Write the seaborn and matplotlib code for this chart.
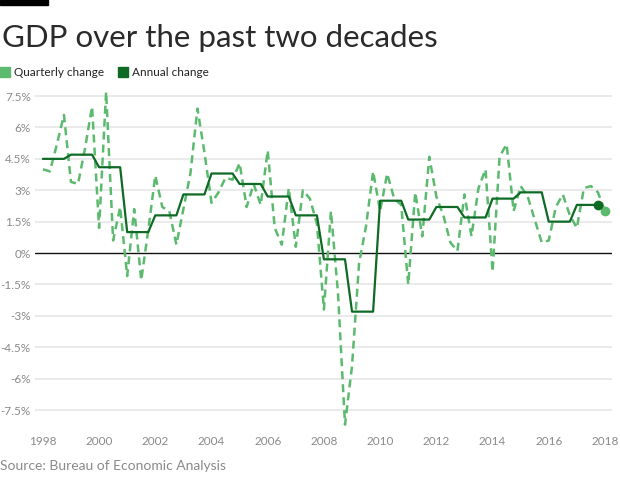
import numpy as np
import pandas as pd
import matplotlib
matplotlib.use("Agg")
import matplotlib.pyplot as plt
import seaborn as sns

# --- data (annualized real GDP growth, %) ---
quarter_start = "1998Q1"
quarter_end = "2018Q1"
quarterly_change = [
    4.0, 3.9, 5.2, 6.6,     # 1998
    3.4, 3.3, 5.0, 7.0,     # 1999
    1.2, 7.7, 0.6, 2.2,     # 2000
    -1.1, 2.1, -1.3, 1.1,   # 2001
    3.7, 2.2, 2.0, 0.4,     # 2002
    2.1, 3.8, 6.9, 4.8,     # 2003
    2.4, 2.9, 3.6, 3.5,     # 2004
    4.3, 2.2, 3.3, 2.3,     # 2005
    4.9, 1.2, 0.4, 3.1,     # 2006
    0.3, 3.0, 2.6, 1.4,     # 2007
    -2.7, 2.0, -1.9, -8.2,  # 2008
    -5.4, -0.5, 1.3, 3.9,   # 2009
    2.0, 3.8, 2.6, 2.3,     # 2010
    -1.5, 2.9, 0.8, 4.6,    # 2011
    2.7, 1.8, 0.5, 0.1,     # 2012
    2.8, 0.8, 3.1, 4.0,     # 2013
    -0.9, 4.6, 5.2, 2.0,    # 2014
    3.2, 2.7, 1.6, 0.5,     # 2015
    0.6, 2.2, 2.8, 1.8,     # 2016
    1.2, 3.1, 3.2, 2.9,     # 2017
    2.0,                    # 2018
]
annual_years = list(range(1998, 2018))
annual_change = [4.5, 4.7, 4.1, 1.0, 1.8, 2.8, 3.8, 3.3, 2.7, 1.8,
                 -0.3, -2.8, 2.5, 1.6, 2.2, 1.7, 2.6, 2.9, 1.5, 2.3]

y_ticks = [7.5, 6, 4.5, 3, 1.5, 0, -1.5, -3, -4.5, -6, -7.5]
x_ticks = list(range(1998, 2019, 2))

# quarterly frame: position each quarter at year + (q-1)/4
periods = pd.period_range(quarter_start, quarter_end, freq="Q")
qdf = pd.DataFrame({"x": periods.year + (periods.quarter - 1) / 4,
                    "value": quarterly_change})
# annual figure repeated over the four quarters of its year
adf = pd.DataFrame({"x": np.repeat(annual_years, 4) + np.tile([0, 0.25, 0.5, 0.75], len(annual_years)),
                    "value": np.repeat(annual_change, 4)})

light_green = "#5cba6f"
dark_green = "#0e6a24"
grey = "#8a8a8a"

sns.set_style("white")
plt.rcParams["font.family"] = ["Lato", "DejaVu Sans"]

fig = plt.figure(figsize=(6.2, 4.8), dpi=100)
ax = fig.add_axes([35 / 620, 1 - 428 / 480, 577 / 620, 338 / 480])

for yv in y_ticks:
    if yv != 0:
        ax.axhline(yv, color="#e6e6e6", linewidth=1.2, zorder=0)
ax.axhline(0, color="#111111", linewidth=1.0, zorder=1)

sns.lineplot(data=qdf, x="x", y="value", ax=ax, color=light_green,
             linewidth=1.8, zorder=2)
ax.lines[-1].set_dashes([3.2, 2.0])
sns.lineplot(data=adf, x="x", y="value", ax=ax, color=dark_green,
             linewidth=1.6, zorder=3)

ax.scatter(qdf["x"].iloc[-1], qdf["value"].iloc[-1], s=36, color=light_green, zorder=4)
ax.scatter(adf["x"].iloc[-1], adf["value"].iloc[-1], s=36, color=dark_green, zorder=5)

ax.set_xlim(1997.72, 2018.25)
ax.set_ylim(-8.36, 7.79)
ax.set_yticks(y_ticks)
ax.set_yticklabels([f"{v:g}%" for v in y_ticks])
ax.set_xticks(x_ticks)
ax.set_xticklabels([str(v) for v in x_ticks])
ax.tick_params(axis="both", length=0, labelsize=8.5, labelcolor=grey)
ax.tick_params(axis="x", pad=6)
ax.tick_params(axis="y", pad=3)
ax.set_xlabel("")
ax.set_ylabel("")
for s in ax.spines.values():
    s.set_visible(False)

# header
fig.patches.append(plt.Rectangle((0, 1 - 5 / 480), 48 / 620, 5 / 480,
                                 transform=fig.transFigure, color="black"))
fig.text(2 / 620, 1 - 47 / 480, "GDP over the past two decades", fontsize=22.5,
         fontweight="normal", color="#2a2a2a", ha="left", va="baseline")

# legend
fig.patches.append(plt.Rectangle((0, 1 - 77 / 480), 10 / 620, 10 / 480,
                                 transform=fig.transFigure, color=light_green))
fig.text(14 / 620, 1 - 72 / 480, "Quarterly change", fontsize=8.5,
         color="#222222", va="center")
fig.patches.append(plt.Rectangle((118 / 620, 1 - 77 / 480), 10 / 620, 10 / 480,
                                 transform=fig.transFigure, color=dark_green))
fig.text(132 / 620, 1 - 72 / 480, "Annual change", fontsize=8.5,
         color="#222222", va="center")

fig.text(0, 1 - 466 / 480, "Source: Bureau of Economic Analysis", fontsize=10,
         color=grey, va="center")

fig.savefig("out.png", dpi=100, facecolor="white")
